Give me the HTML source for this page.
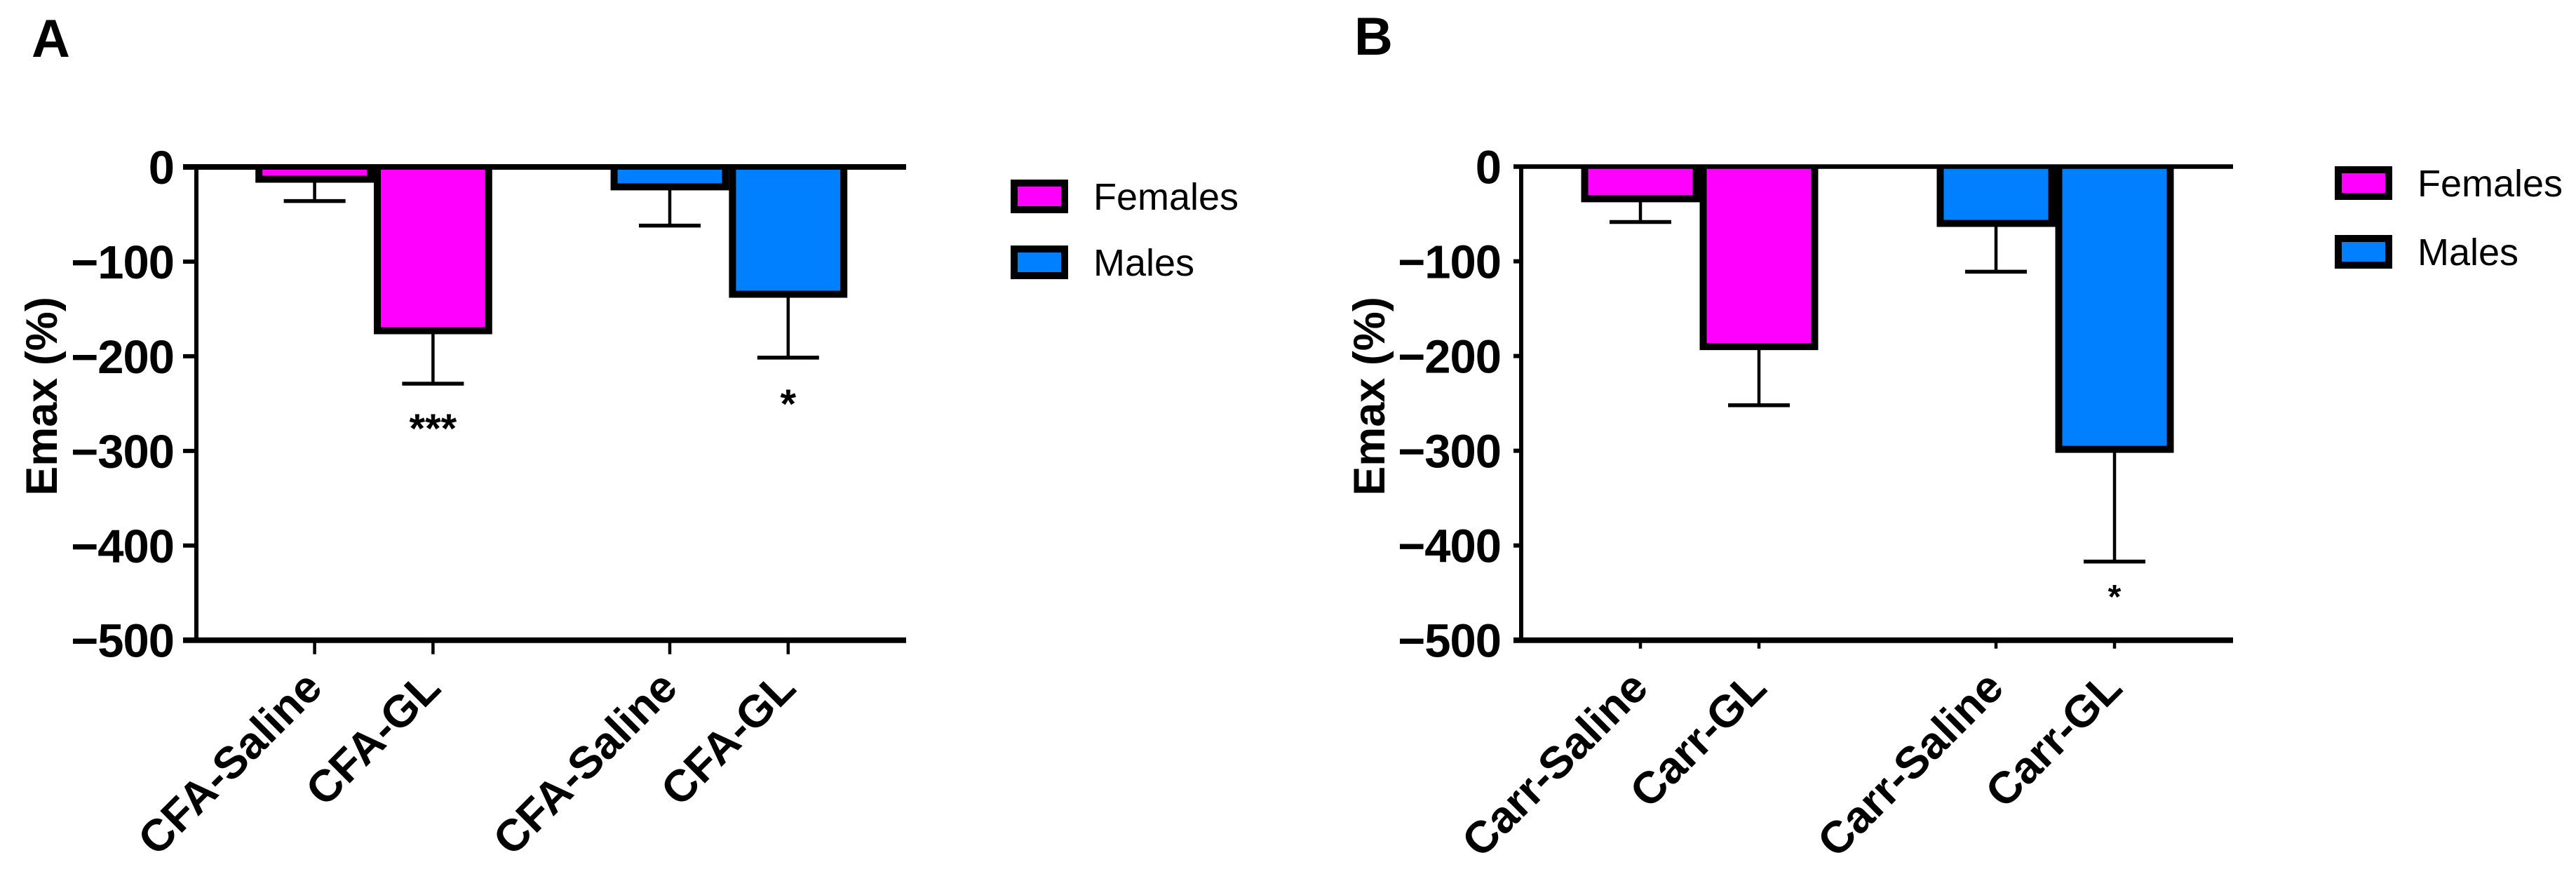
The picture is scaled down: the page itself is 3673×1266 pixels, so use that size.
<!DOCTYPE html>
<html lang="en">
<head>
<meta charset="utf-8">
<title>Emax by treatment and sex</title>
<style>
  html, body { margin: 0; padding: 0; background: #fff; }
  svg { display: block; font-family: "Liberation Sans", Arial, sans-serif; }
</style>
</head>
<body>
<svg id="figure" xmlns="http://www.w3.org/2000/svg" width="3673" height="1266" viewBox="0 0 3673 1266">
  <rect width="3673" height="1266" fill="#fff"/>
  <text x="45" y="81" font-size="76" font-weight="700">A</text>
  <text x="1931" y="78" font-size="76" font-weight="700">B</text>
  <g id="panel-a"></g>
  <g id="panel-b"></g>
</svg>
<script>
// Panel A data
const categoriesA = ['CFA-Saline', 'CFA-GL', 'CFA-Saline', 'CFA-GL'];
const valuesA = [-13, -173, -21, -134.5];
const errorsA = [23, 56, 41, 67];
const significanceA = ['', '***', '', '*'];
const significanceLevelA = [0, -272, 0, -246];

// Panel B data
const categoriesB = ['Carr-Saline', 'Carr-GL', 'Carr-Saline', 'Carr-GL'];
const valuesB = [-34, -190, -60, -298.5];
const errorsB = [24.5, 62, 51, 118.5];
const significanceB = ['', '', '', '*'];
const significanceLevelB = [0, 0, 0, -450];

// Shared
const groupOf = ['Females', 'Females', 'Males', 'Males'];
const slots = [0, 1, 3, 4];
const yTicks = [0, -100, -200, -300, -400, -500];
const legendLabels = ['Females', 'Males'];
const seriesColor = { Females: '#ff00ff', Males: '#0080ff' };

const NS = 'http://www.w3.org/2000/svg';
function mk(parent, tag, attrs, text) {
  const el = document.createElementNS(NS, tag);
  for (const k in attrs) el.setAttribute(k, attrs[k]);
  if (text !== undefined) el.textContent = text;
  parent.appendChild(el);
  return el;
}
function fmt(v) { return v === 0 ? '0' : '\u2212' + Math.abs(v); }

function drawPanel(root, cfg) {
  const y = v => cfg.y0 + (cfg.yBottom - cfg.y0) * (v / -500);
  const x = s => cfg.x0 + cfg.step * s;
  const barHalf = cfg.step / 2 - 5;

  // bars and error bars
  cfg.values.forEach((val, i) => {
    const cx = x(slots[i]);
    const yv = y(val);
    const yc = y(val - cfg.errors[i]);

    const stem = mk(root, 'line', { x1: cx, x2: cx, y1: yv, y2: yc, stroke: '#000', 'stroke-width': 4.5 });
    
    

    const cap = mk(root, 'line', { x1: cx - 44, x2: cx + 44, y1: yc, y2: yc, stroke: '#000', 'stroke-width': 5.5 });
    
    

    const d = 'M' + (cx - barHalf) + ' ' + cfg.y0 + 'V' + yv + 'H' + (cx + barHalf) + 'V' + cfg.y0;
    const bar = mk(root, 'path', { d: d, fill: seriesColor[groupOf[i]], stroke: '#000', 'stroke-width': 10, 'stroke-linejoin': 'miter' });
    
    

    if (cfg.sig[i]) {
      const star = mk(root, 'text', { x: cx, y: y(cfg.sigLevel[i]) + 0.45 * cfg.starSize, 'text-anchor': 'middle', 'font-size': cfg.starSize, 'font-weight': 700, fill: '#000' }, cfg.sig[i]);
      
      
    }
  });

  // y axis
  const yAxis = mk(root, 'line', { x1: cfg.axisX, x2: cfg.axisX, y1: cfg.y0, y2: cfg.yBottom, stroke: '#000', 'stroke-width': cfg.yAxisWidth });
  
  

  yTicks.forEach(t => {
    if (t !== 0 && t !== -500) {
      const tick = mk(root, 'line', { x1: cfg.lineStart, x2: cfg.axisX, y1: y(t), y2: y(t), stroke: '#000', 'stroke-width': 6 });
      
      
    }
    const lab = mk(root, 'text', { x: cfg.tickLabelX, y: y(t) + 24, 'text-anchor': 'end', 'font-size': 67, 'font-weight': 700, 'letter-spacing': -1 }, fmt(t));
    
    
  });

  // horizontal axis lines
  const zero = mk(root, 'line', { x1: cfg.lineStart, x2: cfg.lineEnd, y1: cfg.y0, y2: cfg.y0, stroke: '#000', 'stroke-width': cfg.zeroWidth });
  
  

  const xAxis = mk(root, 'line', { x1: cfg.lineStart, x2: cfg.lineEnd, y1: cfg.yBottom, y2: cfg.yBottom, stroke: '#000', 'stroke-width': 8 });
  
  

  // x ticks and rotated labels
  cfg.categories.forEach((c, i) => {
    const cx = x(slots[i]);
    const tick = mk(root, 'line', { x1: cx, x2: cx, y1: cfg.yBottom, y2: cfg.yBottom + cfg.xTickLen, stroke: '#000', 'stroke-width': 4.5 });
    
    

    const ax = cx + cfg.labelDx, ay = cfg.labelY;
    const lab = mk(root, 'text', { x: ax, y: ay, 'text-anchor': 'end', 'font-size': 64, 'font-weight': 700, transform: 'rotate(-45 ' + ax + ' ' + ay + ')' }, c);
    
    
  });

  // y title
  const tx = cfg.titleX, ty = 565;
  const title = mk(root, 'text', { x: tx, y: ty, 'text-anchor': 'middle', 'font-size': 63, 'font-weight': 700, transform: 'rotate(-90 ' + tx + ' ' + ty + ')' }, 'Emax (%)');
  
  

  // legend
  legendLabels.forEach((name, i) => {
    const top = cfg.legendTops[i];
    const sw = mk(root, 'rect', { x: cfg.legendX + 5, y: top + 5, width: 72, height: 38, fill: seriesColor[name], stroke: '#000', 'stroke-width': 10 });
    
    

    const t = mk(root, 'text', { x: cfg.legendX + 118, y: top + 43, 'font-size': 54, fill: '#000' }, name);
    
    
  });
}

drawPanel(document.getElementById('panel-a'), {
  categories: categoriesA, values: valuesA, errors: errorsA, sig: significanceA, sigLevel: significanceLevelA,
  y0: 238, yBottom: 912.7, x0: 448.6, step: 168.8, axisX: 280, yAxisWidth: 6,
  lineStart: 261, lineEnd: 1292, zeroWidth: 8, tickLabelX: 248, titleX: 81,
  xTickLen: 20, labelDx: 14, labelY: 984, starSize: 58, legendX: 1441, legendTops: [256, 350]
});
drawPanel(document.getElementById('panel-b'), {
  categories: categoriesB, values: valuesB, errors: errorsB, sig: significanceB, sigLevel: significanceLevelB,
  y0: 237.5, yBottom: 912.7, x0: 2339, step: 169, axisX: 2169, yAxisWidth: 6,
  lineStart: 2158, lineEnd: 3184, zeroWidth: 6.5, tickLabelX: 2140, titleX: 1974,
  xTickLen: 12, labelDx: 14, labelY: 984, starSize: 48, legendX: 3329, legendTops: [237, 335]
});
</script>
</body>
</html>
